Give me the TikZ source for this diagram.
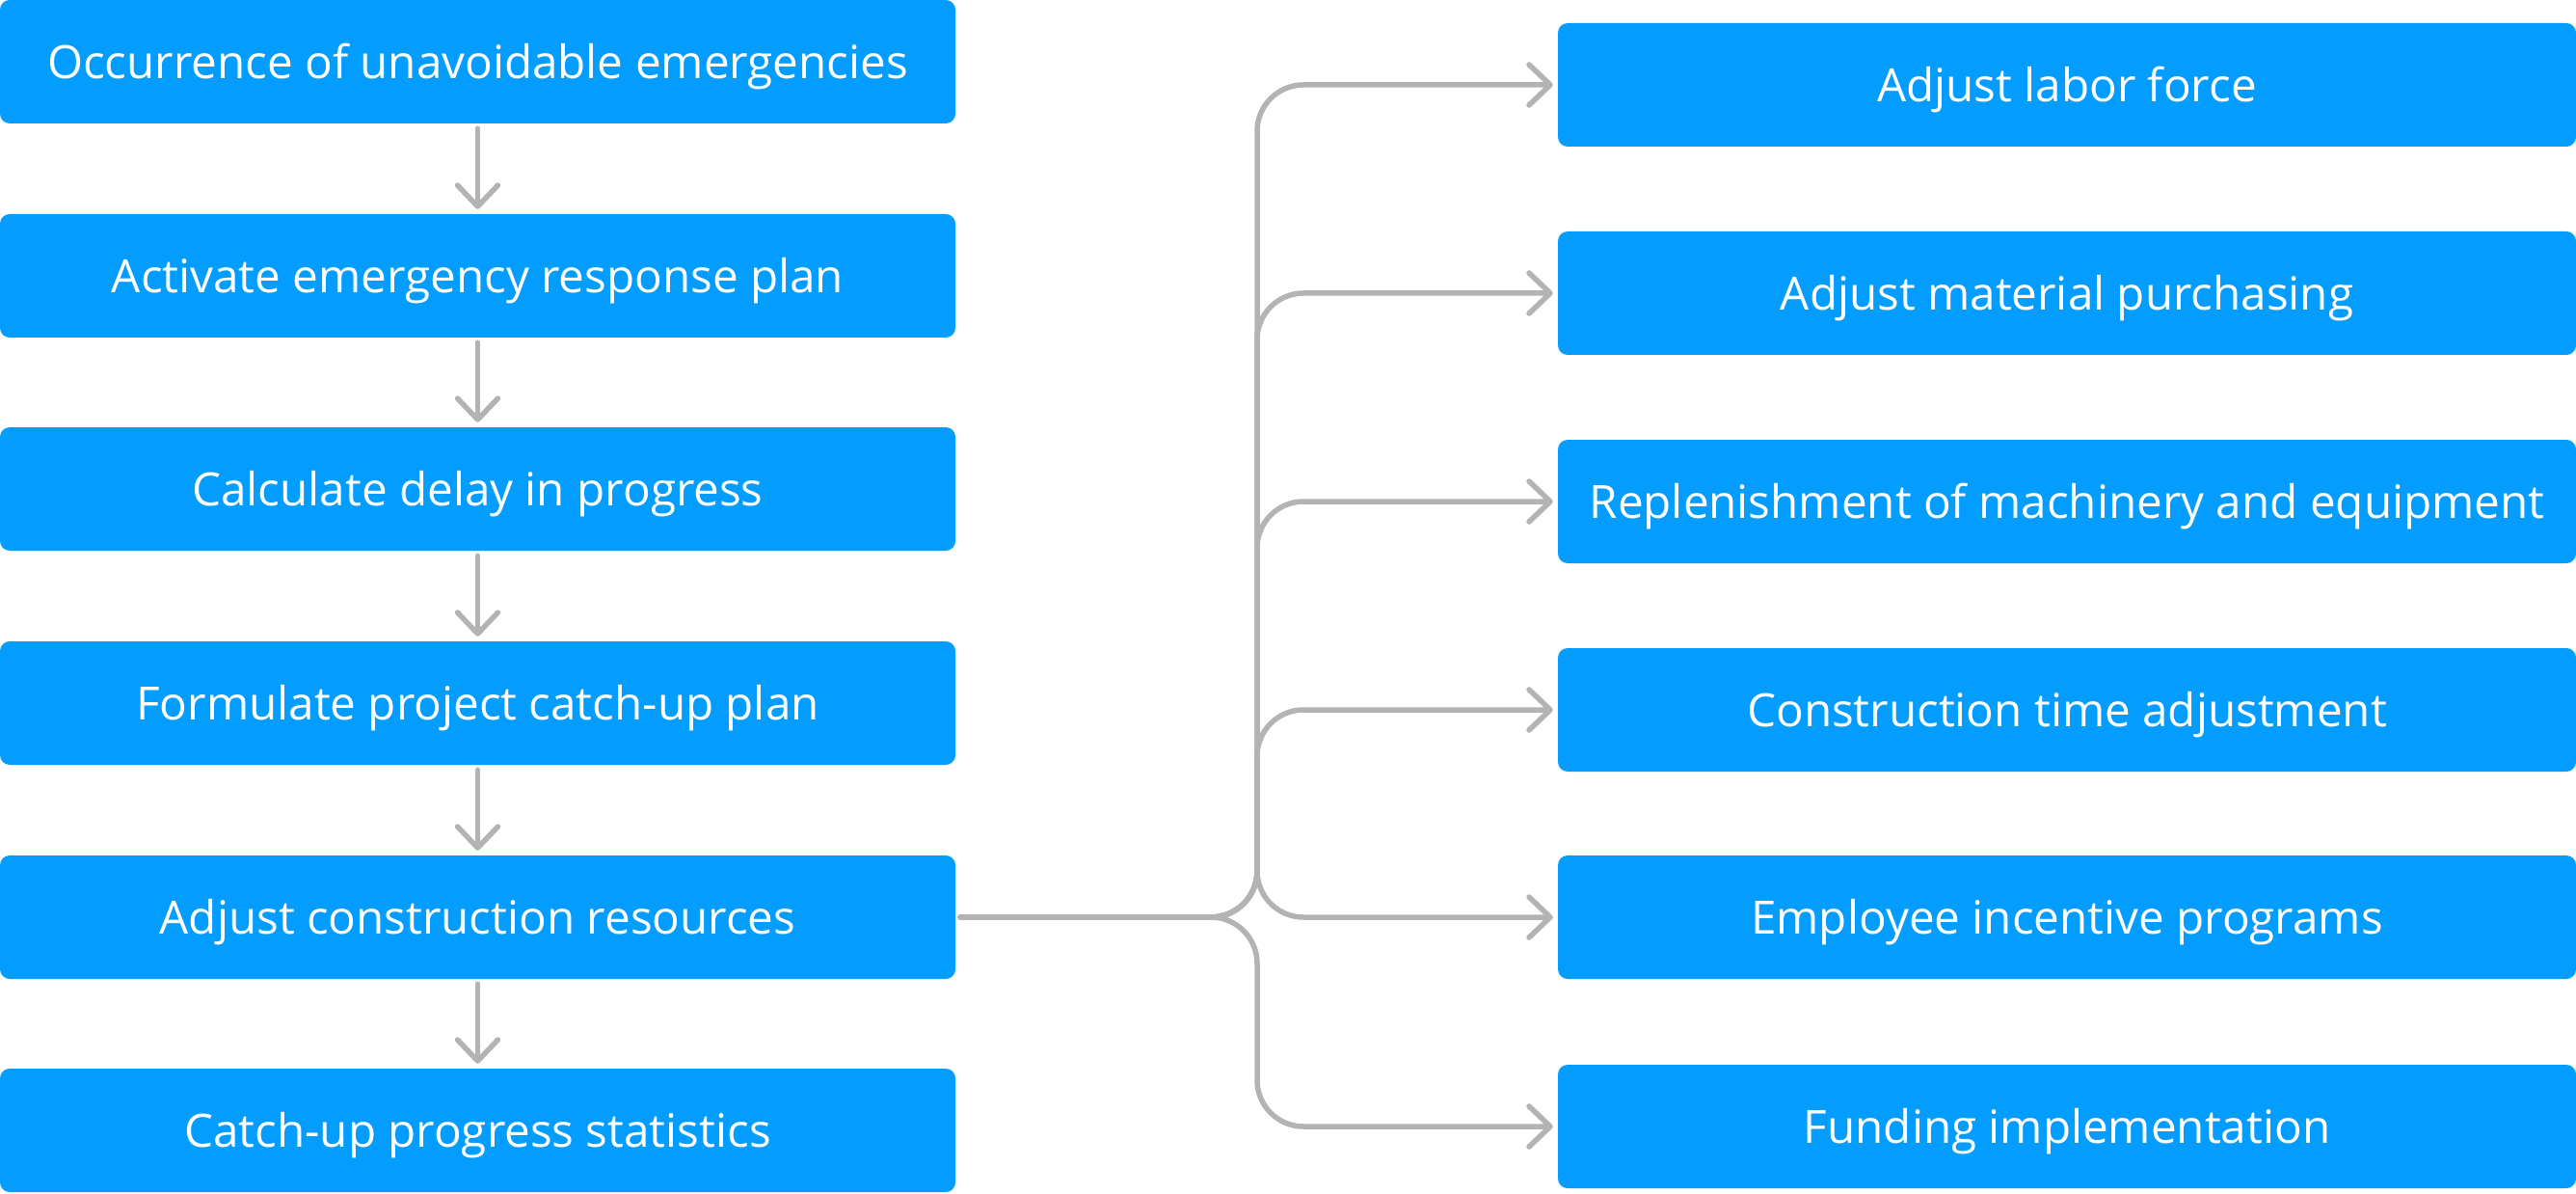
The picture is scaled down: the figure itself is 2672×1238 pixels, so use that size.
\documentclass[tikz,border=0pt]{standalone}
\usepackage{fontspec}
\setmainfont{Open Sans}
\usetikzlibrary{arrows.meta}
\definecolor{boxblue}{HTML}{039CFF}
\definecolor{linegray}{HTML}{B3B3B3}
\begin{document}
\begin{tikzpicture}[x=1pt,y=-1pt,
  box/.style={fill=boxblue, rounded corners=10pt, text=white,
    font=\fontsize{47.6}{50}\selectfont, inner sep=0pt, minimum height=128pt,
    text height=35pt, text depth=0pt},
  lbox/.style={box, minimum width=991pt},
  rbox/.style={box, minimum width=1056pt},
  conn/.style={draw=linegray, line width=5.5pt, line cap=round, line join=round,
    -{Straight Barb[length=22pt,width=42pt,line width=5.5pt,round]}}
]
\useasboundingbox (0,0) rectangle (2672,1238);
\node[lbox] (l1) at (495.5,64) {Occurrence of unavoidable emergencies};
\node[lbox] (l2) at (495.5,286) {Activate emergency response plan};
\node[lbox] (l3) at (495.5,507) {Calculate delay in progress};
\node[lbox] (l4) at (495.5,729) {Formulate project catch-up plan};
\node[lbox] (l5) at (495.5,951) {Adjust construction resources};
\node[lbox] (l6) at (495.5,1172) {Catch-up progress statistics};

\node[rbox] (r1) at (2144,88) {Adjust labor force};
\node[rbox] (r2) at (2144,304) {Adjust material purchasing};
\node[rbox] (r3) at (2144,520) {Replenishment of machinery and equipment};
\node[rbox] (r4) at (2144,736) {Construction time adjustment};
\node[rbox] (r5) at (2144,951) {Employee incentive programs};
\node[rbox] (r6) at (2144,1168) {Funding implementation};

\coordinate (trunk) at (1304,0);

\foreach \a/\b in {l1/l2,l2/l3,l3/l4,l4/l5,l5/l6}
  \draw[conn] ([yshift=-5pt]\a.south) -- ([yshift=5pt]\b.north);

\foreach \r in {r1,r2,r3,r4,r5,r6}
  \draw[conn, rounded corners=48pt] ([xshift=5pt]l5.east) -- (l5.east -| trunk)
    -- (trunk |- \r.west) -- ([xshift=-5pt]\r.west);
\end{tikzpicture}
\end{document}
